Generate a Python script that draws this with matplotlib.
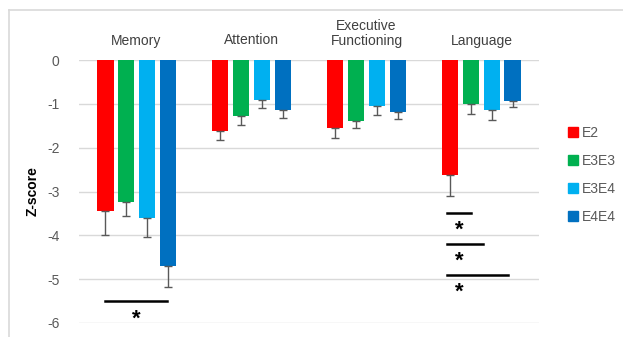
import numpy as np
import matplotlib.pyplot as plt
from matplotlib.lines import Line2D

plt.rcParams['font.family'] = ['Liberation Sans', 'DejaVu Sans']
plt.rcParams['axes.unicode_minus'] = False

domains = ['Memory', 'Attention', 'Executive\nFunctioning', 'Language']
groups = ['E2', 'E3E3', 'E3E4', 'E4E4']
colors = ['#FF0000', '#00B050', '#00B0F0', '#0070C0']

# mean z-scores per group for each domain
means = {
    'E2':   [-3.45, -1.61, -1.55, -2.63],
    'E3E3': [-3.25, -1.27, -1.39, -1.01],
    'E3E4': [-3.61, -0.91, -1.04, -1.13],
    'E4E4': [-4.70, -1.13, -1.18, -0.93],
}
# error bar lengths (drawn downward only)
errs = {
    'E2':   [0.54, 0.22, 0.22, 0.48],
    'E3E3': [0.31, 0.21, 0.17, 0.22],
    'E3E4': [0.42, 0.19, 0.22, 0.25],
    'E4E4': [0.48, 0.20, 0.17, 0.14],
}

# significance brackets: (domain index, x start, x end, line y, star x, star y)
sig_lines = [
    (0, -0.274, 0.265, -5.50, 0.0, -5.92),
    (3, -0.303, -0.089, -3.50, -0.196, -3.88),
    (3, -0.303, 0.016, -4.19, -0.196, -4.59),
    (3, -0.303, 0.233, -4.91, -0.196, -5.29),
]

fig = plt.figure(figsize=(6.23, 3.37), dpi=100)
ax = fig.add_axes([79/623, 1-323/337, 460/623, 263/337])

x = np.arange(len(domains))
width = 0.14
step = 0.18
for i, g in enumerate(groups):
    xs = x + (i - 1.5) * step
    ax.bar(xs, means[g], width, color=colors[i], zorder=2)
    yerr = [errs[g], np.zeros(len(domains))]
    ax.errorbar(xs, means[g], yerr=yerr, fmt='none', ecolor='#595959',
                elinewidth=1.0, capsize=3, capthick=1.0, zorder=3)

for d, x0, x1, ly, sx, sy in sig_lines:
    ax.plot([d + x0, d + x1], [ly, ly], color='black', lw=1.8, zorder=4)
    ax.text(d + sx, sy, '*', ha='center', va='center', fontsize=16,
            fontweight='bold', color='black')

ax.set_xlim(-0.5, len(domains) - 0.5)
ax.set_ylim(-6, 0)
ax.set_yticks(np.arange(-6, 1, 1))
ax.yaxis.grid(True, color='#D9D9D9', lw=1, zorder=0)
ax.set_axisbelow(True)
ax.xaxis.tick_top()
ax.set_xticks(x)
ax.set_xticklabels(domains, fontsize=10, color='#404040', linespacing=1.0)
ax.tick_params(axis='x', length=0, pad=9)
ax.tick_params(axis='y', length=0, pad=14, labelsize=10, labelcolor='#595959')
for s in ax.spines.values():
    s.set_visible(False)
ax.set_ylabel('Z-score', fontsize=10, fontweight='bold', labelpad=5)

handles = [Line2D([], [], marker='s', ls='none', color=c, markersize=7) for c in colors]
fig.legend(handles, groups, loc='center left', bbox_to_anchor=(554/623, 1-175/337),
           frameon=False, fontsize=10, labelcolor='#595959', handletextpad=0.1,
           labelspacing=1.0, handlelength=1.0)

# outer chart frame (top and left edges visible)
fig.add_artist(Line2D([9/623, 9/623], [0, 1-10/337], color='#D9D9D9', lw=1.2))
fig.add_artist(Line2D([9/623, 1], [1-10/337, 1-10/337], color='#D9D9D9', lw=1.2))

fig.savefig('out.png', dpi=100)
